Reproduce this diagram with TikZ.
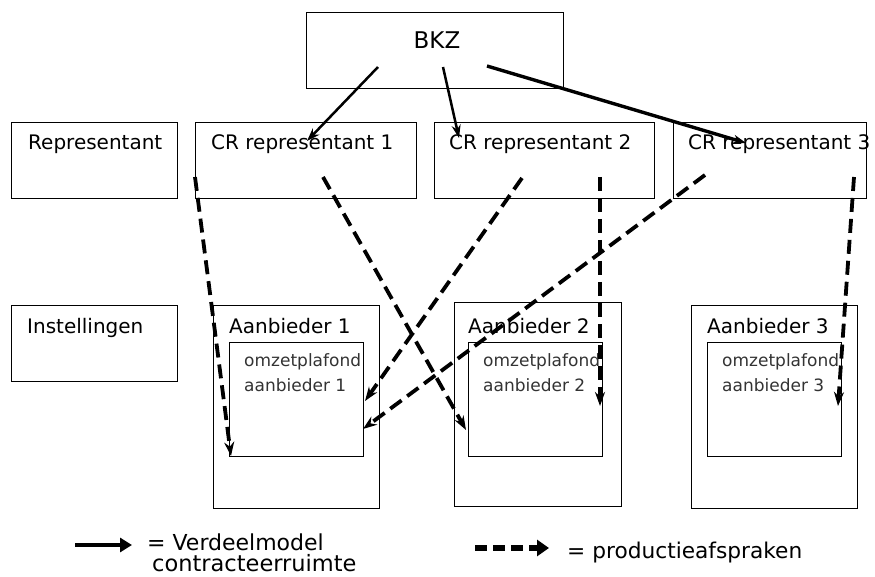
\documentclass[tikz,border=0pt]{standalone}
\usepackage{fontspec}
\setmainfont{DejaVu Sans}
\usetikzlibrary{arrows.meta}
\begin{document}
\begin{tikzpicture}[x=1pt,y=-1pt,
 box/.style={draw, line width=0.8pt, inner sep=0pt},
 lbl/.style={anchor=base west, inner sep=0pt, font=\fontsize{20}{23}\selectfont},
 small/.style={anchor=base west, inner sep=0pt, font=\fontsize{17}{20}\selectfont, text=black!80},
 leg/.style={anchor=base west, inner sep=0pt, font=\fontsize{22}{25}\selectfont},
 sol/.style={line width=2.5pt, -{Stealth[length=13pt,width=9pt]}},
 dsh/.style={line width=3.8pt, dash pattern=on 14pt off 7pt, -{Stealth[length=14pt,width=10pt]}}
]
\useasboundingbox (0,0) rectangle (875,577);
% boxes
\node[box, minimum width=257pt, minimum height=76pt] (bkz) at (434.5,50) {};
\node[box, minimum width=166pt, minimum height=76pt] (rep) at (94,160) {};
\node[box, minimum width=221pt, minimum height=76pt] (cr1) at (305.5,160) {};
\node[box, minimum width=220pt, minimum height=76pt] (cr2) at (544,160) {};
\node[box, minimum width=193pt, minimum height=76pt] (cr3) at (769.5,160) {};
\node[box, minimum width=166pt, minimum height=76pt] (inst) at (94,343) {};
\node[box, minimum width=166pt, minimum height=203pt] (a1) at (296,406.5) {};
\node[box, minimum width=134pt, minimum height=114pt] (i1) at (296,399) {};
\node[box, minimum width=167pt, minimum height=204pt] (a2) at (537.5,404) {};
\node[box, minimum width=134pt, minimum height=114pt] (i2) at (535,399) {};
\node[box, minimum width=166pt, minimum height=203pt] (a3) at (774,406.5) {};
\node[box, minimum width=134pt, minimum height=114pt] (i3) at (774,399) {};
% texts
\node[anchor=base, inner sep=0pt, font=\fontsize{23}{26}\selectfont] (tbkz) at (437,49) {BKZ};
\node[lbl] (trep) at (28,150) {Representant};
\node[lbl] (tcr1) at (211,150) {CR representant 1};
\node[lbl] (tcr2) at (449,150) {CR representant 2};
\node[lbl] (tcr3) at (688,150) {CR representant 3};
\node[lbl] (tinst) at (27,333) {Instellingen};
\node[lbl] (ta1) at (229,333) {Aanbieder 1};
\node[lbl] (ta2) at (468,333) {Aanbieder 2};
\node[lbl] (ta3) at (707,333) {Aanbieder 3};
\node[small] (o1) at (244,366) {omzetplafond};
\node[small] (b1) at (244,391) {aanbieder 1};
\node[small] (o2) at (483,366) {omzetplafond};
\node[small] (b2) at (483,391) {aanbieder 2};
\node[small] (o3) at (722,366) {omzetplafond};
\node[small] (b3) at (722,391) {aanbieder 3};
% connector endpoints
\coordinate (k1) at (378,67); \coordinate (c1) at (307,141);
\coordinate (k2) at (443,67); \coordinate (c2) at (459,138);
\coordinate (k3) at (487,66); \coordinate (c3) at (746,143);
\coordinate (d1s) at (195,177); \coordinate (d1e) at (231,456);
\coordinate (d2s) at (323,177); \coordinate (d2e) at (466,430);
\coordinate (d3s) at (522,178); \coordinate (d3e) at (365,401);
\coordinate (d4s) at (600,177); \coordinate (d4e) at (600,406);
\coordinate (d5s) at (705,175); \coordinate (d5e) at (363,429);
\coordinate (d6s) at (854,177); \coordinate (d6e) at (838,406);
% solid arrows
\draw[sol] (k1) -- (c1);
\draw[sol] (k2) -- (c2);
\draw[sol, line width=3.4pt] (k3) -- (c3);
% dashed arrows
\draw[dsh] (d1s) -- (d1e);
\draw[dsh] (d2s) -- (d2e);
\draw[dsh] (d3s) -- (d3e);
\draw[dsh] (d4s) -- (d4e);
\draw[dsh] (d5s) -- (d5e);
\draw[dsh] (d6s) -- (d6e);
% legend
\coordinate (l1s) at (75,545); \coordinate (l1e) at (132,545);
\coordinate (l2s) at (475,548); \coordinate (l2e) at (549,548);
\draw[line width=3.5pt, -{Triangle[length=12pt,width=14pt]}] (l1s) -- (l1e);
\draw[line width=6pt, dash pattern=on 12pt off 6pt, -{Triangle[length=12pt,width=16pt]}] (l2s) -- (l2e);
\node[leg] (lt1) at (147,550) {= Verdeelmodel};
\node[leg, font=\fontsize{22.5}{25}\selectfont] (lt2) at (152,571) {contracteerruimte};
\node[leg, font=\fontsize{21.7}{25}\selectfont] (lt3) at (567,558) {= productieafspraken};
\end{tikzpicture}
\end{document}
